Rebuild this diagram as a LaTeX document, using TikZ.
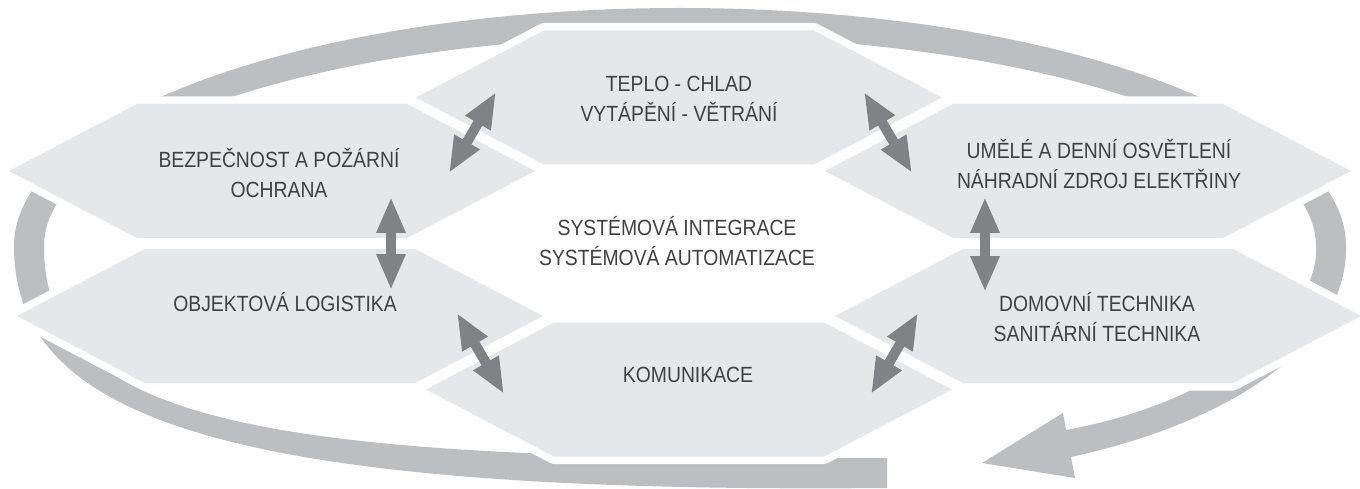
\documentclass[tikz,border=0pt]{standalone}
\usepackage{fontspec}
\setmainfont{Liberation Sans}[FakeStretch=0.88]
\usetikzlibrary{arrows.meta}
\definecolor{ringgray}{HTML}{BCBEC0}
\definecolor{hexgray}{HTML}{E6E7E8}
\definecolor{arrowgray}{HTML}{808285}
\definecolor{txtgray}{HTML}{414042}
\tikzset{
  lbl/.style={font=\fontsize{22}{29.5}\selectfont, text=txtgray, align=center, inner sep=0pt},
  dbl/.style={draw=arrowgray, line width=10pt,
    {Triangle[length=36pt,width=27pt]}-{Triangle[length=36pt,width=27pt]}},
  hexgap/.style={draw=white, line width=15pt, line join=round},
}
\begin{document}
\begin{tikzpicture}[x=1pt, y=-1pt]
\useasboundingbox (0,0) rectangle (1360,489);
\fill[white] (0,0) rectangle (1360,489);
% ring with arrowhead
\fill[ringgray] (887,488) .. controls (230,494) and (14,420) .. (14,246)
 .. controls (14,114.6) and (312.2,8) .. (680,8)
 .. controls (1047.8,8) and (1346,114.6) .. (1346,246)
 .. controls (1348,340) and (1240,420) .. (1071,457)
 -- (1075,478) -- (982,463) -- (1063,413) -- (1066,430)
 .. controls (1230,400) and (1320,310) .. (1316,246)
 .. controls (1316,130) and (1031.3,36) .. (680,36)
 .. controls (328.7,36) and (44,130) .. (44,246)
 .. controls (44,420) and (250,462) .. (887,458) -- cycle;
% hexagons: white gaps first, then fills
\foreach \cx/\cy in {679/97.5, 272/171, 1088/171, 280/316, 1098/316, 689/389.5}
  \path[hexgap] (\cx,\cy) ++(-263,0) -- ++(128,-67) -- ++(270,0) -- ++(128,67) -- ++(-128,67) -- ++(-270,0) -- cycle;
\foreach \cx/\cy in {679/97.5, 272/171, 1088/171, 280/316, 1098/316, 689/389.5}
  \fill[hexgray] (\cx,\cy) ++(-263,0) -- ++(128,-67) -- ++(270,0) -- ++(128,67) -- ++(-128,67) -- ++(-270,0) -- cycle;
% labels
\node[lbl] (teplo) at (679,99) {TEPLO - CHLAD\\VYTÁPĚNÍ - VĚTRÁNÍ};
\node[lbl] (bezp) at (279,173) {BEZPEČNOST A POŽÁRNÍ\\OCHRANA};
\node[lbl] (umele) at (1099,164) {UMĚLÉ A DENNÍ OSVĚTLENÍ\\NÁHRADNÍ ZDROJ ELEKTŘINY};
\node[lbl] (center) at (677,241) {SYSTÉMOVÁ INTEGRACE\\SYSTÉMOVÁ AUTOMATIZACE};
\node[lbl] (obj) at (285,302) {OBJEKTOVÁ LOGISTIKA};
\node[lbl] (dom) at (1097,317) {DOMOVNÍ TECHNIKA\\SANITÁRNÍ TECHNIKA};
\node[lbl] (kom) at (688,375) {KOMUNIKACE};
% connector end points
\coordinate (a1a) at (391,197); \coordinate (a1b) at (391,290);
\coordinate (a2a) at (985,197); \coordinate (a2b) at (985,292);
\coordinate (a3a) at (496,92);  \coordinate (a3b) at (449,173);
\coordinate (a4a) at (864,92);  \coordinate (a4b) at (912,173);
\coordinate (a5a) at (457,313); \coordinate (a5b) at (504,394);
\coordinate (a6a) at (918,313); \coordinate (a6b) at (871,394);
\draw[dbl] (a1a) -- (a1b);
\draw[dbl] (a2a) -- (a2b);
\draw[dbl] (a3a) -- (a3b);
\draw[dbl] (a4a) -- (a4b);
\draw[dbl] (a5a) -- (a5b);
\draw[dbl] (a6a) -- (a6b);
\end{tikzpicture}
\end{document}
